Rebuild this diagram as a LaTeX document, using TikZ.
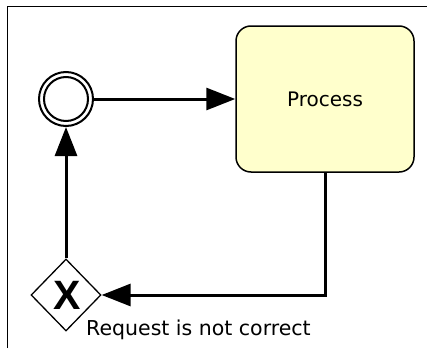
\documentclass[tikz,border=0pt]{standalone}
\usepackage{fontspec}
\setmainfont{DejaVu Sans}
\newfontfamily\xfont{Liberation Sans}
\usetikzlibrary{shapes.geometric,arrows.meta}
\definecolor{taskfill}{HTML}{FFFFCC}
\tikzset{
  flow/.style={line width=3pt,-{Triangle[length=29pt,width=22pt]}},
  task/.style={draw,line width=1.5pt,rounded corners=15pt,fill=taskfill,minimum width=178pt,minimum height=146pt,inner sep=0pt,font=\fontsize{20}{24}\selectfont},
  gate/.style={draw,diamond,line width=1.3pt,fill=white,minimum width=70pt,minimum height=72pt,inner sep=0pt,aspect=1},
  ring/.style={circle,draw,line width=2pt,inner sep=0pt},
  frame/.style={line width=1pt}
}
\begin{document}
\begin{tikzpicture}[x=1pt,y=-1pt]
\useasboundingbox (0,0) rectangle (427,348);
\draw[frame] (7.5,348) -- (7.5,6) -- (427,6);
\node[ring,minimum size=54pt] (ev) at (66,99) {};
\node[ring,minimum size=44pt] (evin) at (66,99) {};
\node[task] (proc) at (325,99) {Process};
\node[gate] (gw) at (66,295) {};
\node[font=\xfont\bfseries\fontsize{41}{41}\selectfont,inner sep=0pt] (gx) at (67,295) {X};
\coordinate (corner) at (proc.south |- gw.east);
\draw[flow] (ev.east) -- (proc.west);
\draw[flow] (proc.south) -- (corner) -- (gw.east);
\draw[flow] (gw.north) -- (ev.south);
\node[anchor=base west,inner sep=0pt,font=\fontsize{20.5}{24}\selectfont] (lbl) at (86,335) {Request is not correct};
\end{tikzpicture}
\end{document}
